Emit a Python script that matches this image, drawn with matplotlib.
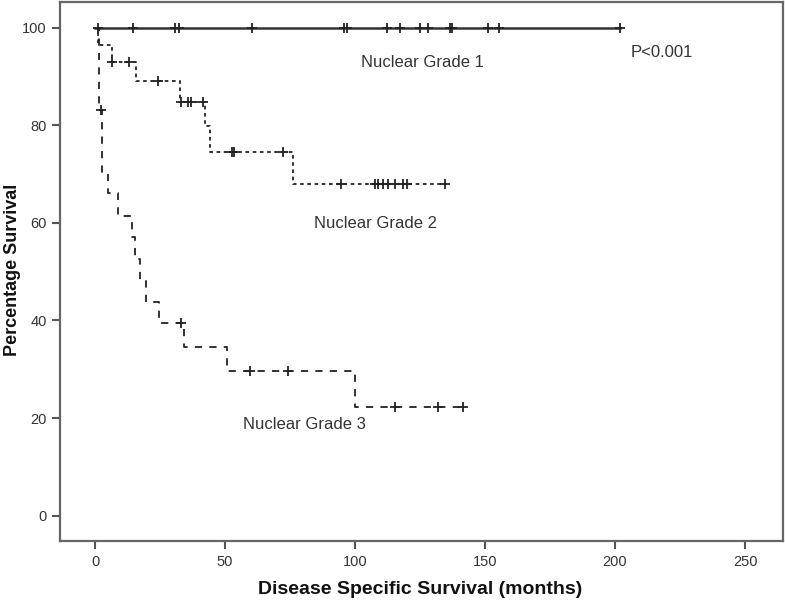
import matplotlib
matplotlib.use("Agg")
import matplotlib.pyplot as plt

plt.rcParams["font.family"] = ["Liberation Sans", "DejaVu Sans"]

# Kaplan-Meier step data (months, percent)
g1_times = [0, 202]
g1_surv = [100, 100]
g1_cens_t = [1.2, 14.6, 30.8, 32.3, 60.4, 95.8, 96.9, 112.3, 117.3, 125, 128,
             136.5, 137.3, 151, 155.4, 202]

g2_times = [0, 1.0, 6.4, 15.8, 32.7, 42.3, 44.2, 76.3, 134.6]
g2_surv = [100, 96.5, 92.9, 89.0, 84.7, 79.9, 74.6, 67.9, 67.9]
g2_cens_t = [6.5, 13.2, 24.2, 33.0, 35.8, 36.8, 41.4, 52.8, 53.5, 72.4, 94.6,
             107.7, 109, 110.9, 112.8, 115.4, 118.6, 119.9, 134.6]

g3_times = [0, 1.7, 2.7, 5.0, 9.0, 14.3, 15.5, 17.3, 19.6, 24.6, 34.2, 50.6,
            100, 141.7]
g3_surv = [100, 83.2, 70.2, 66.1, 61.5, 57.0, 52.5, 48.3, 43.8, 39.4, 34.6,
           29.6, 22.2, 22.2]
g3_cens_t = [2.2, 33.0, 59.6, 74.1, 115.4, 132, 141.7]

x_ticks = [0, 50, 100, 150, 200, 250]
y_ticks = [0, 20, 40, 60, 80, 100]


def surv_at(times, surv, t):
    val = surv[0]
    for tt, s in zip(times, surv):
        if tt <= t:
            val = s
    return val


fig = plt.figure(figsize=(7.85, 6.03), dpi=100)
ax = fig.add_axes([0.0764, 0.102, 0.921, 0.895])

line_kw = dict(color="#222222", where="post", lw=1.3)
ax.step(g1_times, g1_surv, linestyle="-", **dict(line_kw, lw=1.8, color="#333333"))
ax.step(g2_times, g2_surv, linestyle=(0, (2, 2)), **line_kw)
ax.step(g3_times, g3_surv, linestyle=(0, (4, 4)), **line_kw)

for times, surv, cens in [(g1_times, g1_surv, g1_cens_t),
                          (g2_times, g2_surv, g2_cens_t),
                          (g3_times, g3_surv, g3_cens_t)]:
    ys = [surv_at(times, surv, t) for t in cens]
    ax.plot(cens, ys, linestyle="none", marker="+", markersize=7,
            markeredgewidth=1.3, color="#222222")

txt_kw = dict(fontsize=12, color="#333333", ha="center", va="center")
ax.text(126, 92.8, "Nuclear Grade 1", **txt_kw)
ax.text(107.7, 59.8, "Nuclear Grade 2", **txt_kw)
ax.text(80.4, 18.7, "Nuclear Grade 3", **txt_kw)
ax.text(218, 94.9, "P<0.001", **txt_kw)

ax.set_xlim(-13.5, 264.6)
ax.set_ylim(-5.3, 105.3)
ax.set_xticks(x_ticks)
ax.set_yticks(y_ticks)
ax.tick_params(direction="out", length=6, width=1.5, color="#555555",
               labelsize=10.5, labelcolor="#333333")
for sp in ax.spines.values():
    sp.set_color("#666666")
    sp.set_linewidth(1.6)

fig.text(0.535, 0.022, "Disease Specific Survival (months)", fontsize=14,
         fontweight="bold", ha="center", va="center", color="#111111")
fig.text(0.016, 0.552, "Percentage Survival", fontsize=13, fontweight="bold",
         rotation=90, ha="center", va="center", color="#111111")

fig.savefig("out.png", dpi=100)
